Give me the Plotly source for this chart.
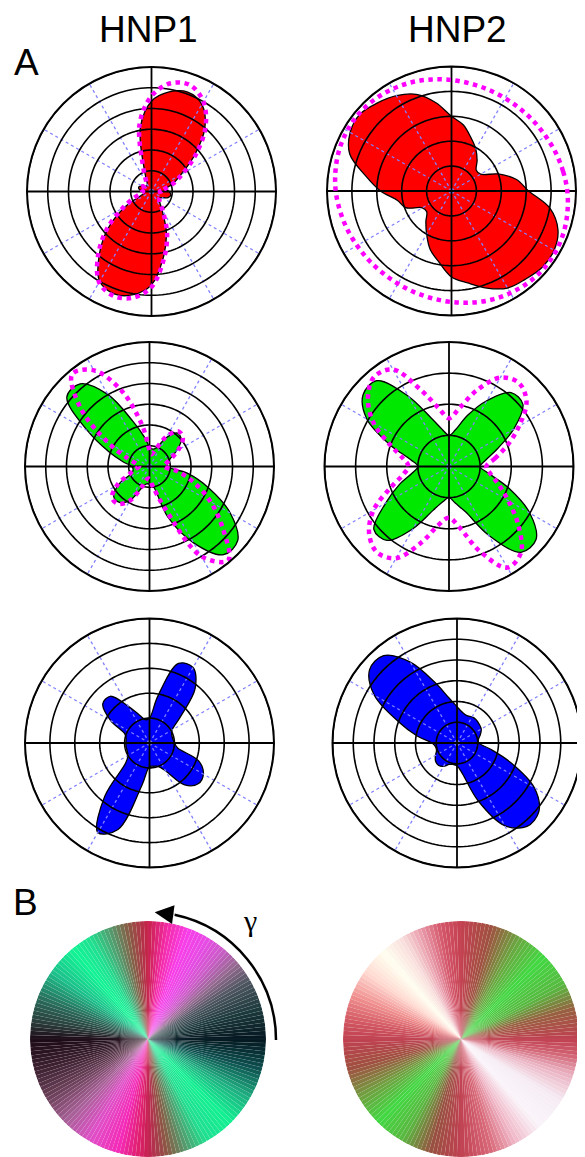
import numpy as np
import plotly.graph_objects as go

W, H = 585, 1157
OFF = 8  # the page body adds an 8px margin around the plot

# polar angle of each sample (deg, counter-clockwise from east)
theta = list(range(0, 360, 10))

# radii, in units of grid rings
hnp1_red = [0.85, 0.7, 1.1, 1.65, 2.7, 4.0, 4.85, 5.1, 4.87, 4.35, 3.1, 0.9,
            0.4, 0.35, 0.4, 0.55, 0.65, 0.6, 0.4, 0.35, 0.5, 1.45, 2.7, 3.9,
            5.0, 5.25, 5.05, 4.5, 3.25, 2.1, 1.0, 0.6, 0.5, 0.6, 0.85, 0.95]
hnp1_red_fit = [0.4, 0.6, 1.1, 1.75, 2.8, 4.05, 5.0, 5.45, 5.3, 4.6, 3.3, 1.1,
                0.5, 0.4, 0.4, 0.5, 0.6, 0.5, 0.4, 0.5, 0.9, 1.6, 2.8, 4.0,
                5.05, 5.35, 5.2, 4.6, 3.35, 2.2, 1.1, 0.6, 0.5, 0.5, 0.5, 0.45]
hnp2_red = [3.1, 2.65, 2.0, 1.35, 1.3, 1.6, 1.95, 2.28, 2.7, 3.0, 3.6, 4.13,
            4.42, 4.62, 4.8, 4.7, 4.35, 3.5, 2.85, 2.2, 1.96, 1.35, 1.3, 1.6,
            2.0, 2.5, 2.9, 3.45, 3.75, 4.15, 4.5, 4.62, 4.76, 4.76, 4.55, 4.02]
hnp2_red_fit = [4.65, 4.55, 4.46, 4.38, 4.33, 4.3, 4.3, 4.33, 4.38, 4.46, 4.55, 4.65,
                4.73, 4.8, 4.84, 4.84, 4.8, 4.73, 4.65, 4.55, 4.46, 4.38, 4.33, 4.3,
                4.3, 4.33, 4.38, 4.46, 4.55, 4.65, 4.73, 4.8, 4.84, 4.84, 4.8, 4.73]
hnp1_green = [0.85, 0.9, 1.05, 1.5, 2.0, 2.1, 1.6, 0.95, 0.85, 0.95, 1.45, 2.3,
              4.0, 5.2, 5.2, 3.45, 2.1, 1.3, 0.85, 0.8, 0.9, 1.7, 2.25, 2.25,
              1.9, 1.1, 0.85, 0.85, 0.95, 2.6, 4.25, 5.55, 5.55, 4.5, 3.05, 1.85]
hnp1_green_fit = [0.7, 0.8, 1.1, 1.6, 2.1, 2.2, 1.7, 0.9, 0.6, 0.8, 2.0, 3.85,
                  5.35, 5.8, 4.3, 2.3, 1.1, 0.6, 0.5, 0.7, 1.0, 1.8, 2.35, 2.35,
                  1.9, 1.0, 0.6, 0.6, 1.0, 2.1, 5.0, 5.9, 4.6, 3.4, 2.3, 1.4]
hnp2_green = [1.0, 1.2, 1.65, 2.4, 3.1, 3.1, 2.45, 1.75, 1.2, 1.0, 1.2, 1.65,
              2.6, 3.6, 3.6, 3.05, 2.0, 1.25, 1.0, 1.2, 1.7, 2.35, 3.15, 3.1,
              2.3, 1.5, 1.15, 1.0, 1.2, 1.55, 2.55, 3.6, 3.65, 3.0, 2.05, 1.3]
hnp2_green_fit = [1.2, 1.5, 2.0, 2.6, 3.25, 3.5, 3.3, 2.6, 1.9, 1.55, 1.9, 2.6,
                  3.6, 3.75, 3.4, 2.8, 2.0, 1.5, 1.3, 1.5, 2.0, 2.8, 3.35, 3.6,
                  3.4, 2.6, 1.9, 1.65, 2.0, 2.9, 3.75, 3.6, 2.9, 2.2, 1.7, 1.35]
hnp1_blue = [1.0, 0.95, 0.95, 1.05, 1.6, 2.85, 3.5, 3.4, 1.9, 1.0, 0.95, 1.2,
             1.7, 2.45, 2.45, 1.8, 1.05, 0.95, 0.95, 0.95, 0.95, 1.0, 1.25, 2.8,
             4.15, 3.7, 1.7, 0.95, 0.95, 1.0, 1.3, 2.2, 2.55, 2.5, 2.1, 1.15]
hnp2_blue = [1.05, 1.05, 1.2, 1.35, 1.4, 1.45, 1.45, 1.4, 1.5, 1.75, 2.2, 3.1,
             4.5, 5.5, 5.5, 4.6, 3.0, 1.95, 1.2, 1.05, 1.05, 1.2, 1.35, 1.4,
             1.3, 1.1, 1.05, 1.1, 1.5, 2.95, 4.6, 5.25, 5.15, 4.3, 2.75, 1.6]

# colour wheels: colour read at each angle
wheel1_angles = [0, 15, 30, 40, 50, 60, 70, 80, 90, 100, 110, 120, 130, 145, 160, 172,
                 180, 195, 210, 225, 240, 255, 265, 270, 280, 290, 300, 315, 330, 345, 360]
wheel1_colors = ['#03161f', '#1c3a3c', '#4e5660', '#946a90', '#cc5cc8', '#e84ae6', '#f83ee8',
                 '#f42aa8', '#c8204a', '#8a5a44', '#50a070', '#20e090', '#12f496', '#1cc08a',
                 '#2a6a5a', '#2a3a38', '#1c0a16', '#3c2030', '#6a4058', '#a86098', '#e050c8',
                 '#f42ab8', '#e0206e', '#c42050', '#8a5a44', '#50a070', '#20e090', '#12f092',
                 '#1eae80', '#0e5050', '#03161f']
wheel2_angles = [0, 15, 28, 45, 60, 75, 90, 100, 110, 120, 132, 145, 158, 170, 180, 195,
                 210, 225, 240, 255, 270, 285, 298, 312, 328, 342, 352, 360]
wheel2_colors = ['#c04050', '#986040', '#58b840', '#42d842', '#6aa840', '#a05040', '#c44050',
                 '#d45468', '#e898a8', '#f8dcdc', '#fffff0', '#ffd8d0', '#f09090', '#d45a64',
                 '#c04050', '#a05040', '#70a040', '#42d842', '#5ab840', '#985040', '#c04050',
                 '#d86878', '#f0b8c8', '#faf4fa', '#f6ecf4', '#eab0c0', '#d06070', '#c04050']

panels = [
    # (fill values, fitted curve, rings, fill colour, centre x, centre y)
    (hnp1_red, hnp1_red_fit, 6, '#ff0000', 151.5, 191.5),
    (hnp2_red, hnp2_red_fit, 5, '#ff0000', 451.5, 191.0),
    (hnp1_green, hnp1_green_fit, 6, '#00e800', 149.5, 466.5),
    (hnp2_green, hnp2_green_fit, 4, '#00e800', 449.0, 466.5),
    (hnp1_blue, None, 5, '#0000ff', 149.5, 743.0),
    (hnp2_blue, None, 6, '#0000ff', 457.0, 743.0),
]
panel_radius = 124.5
ring_theta = np.arange(0, 361, 2)


def paper(px, py):
    return (px - OFF) / W, 1 - (py - OFF) / H


def domain(cx, cy, rad):
    x0, y0 = paper(cx - rad, cy + rad)
    x1, y1 = paper(cx + rad, cy - rad)
    return dict(x=[x0, x1], y=[y0, y1])


def closed(values):
    return list(values) + [values[0]]


def polar_line(sub, r, th, **line):
    fig.add_trace(go.Scatterpolar(r=r, theta=th, mode='lines', line=line, subplot=sub,
                                  showlegend=False, hoverinfo='skip'))


fig = go.Figure()
layout = {}
for i, (vals, fit, rings, color, cx, cy) in enumerate(panels):
    sub = 'polar' if i == 0 else 'polar%d' % (i + 1)
    fig.add_trace(go.Scatterpolar(r=closed(vals), theta=closed(theta), mode='lines', fill='toself',
                                  fillcolor=color, line=dict(color='black', width=1.3, shape='spline'),
                                  subplot=sub, showlegend=False, hoverinfo='skip'))
    # grid drawn on top of the filled shape
    for a in range(30, 360, 30):
        if a % 90:
            polar_line(sub, [0, rings], [a, a], color='#8080ff', width=1.3, dash='dot')
    for k in range(1, rings + 1):
        polar_line(sub, [k] * len(ring_theta), ring_theta, color='black', width=1.6)
    for a in (0, 90):
        polar_line(sub, [rings, 0, rings], [a, a, a + 180], color='black', width=1.8)
    if fit is not None:
        polar_line(sub, closed(fit), closed(theta), color='#ff00ff', width=4.5, dash='dot',
                   shape='spline')
    layout[sub] = dict(
        domain=domain(cx, cy, panel_radius), bgcolor='white',
        radialaxis=dict(range=[0, rings], showgrid=False, showticklabels=False, ticks='',
                        showline=False),
        angularaxis=dict(rotation=0, direction='counterclockwise', showgrid=False, showline=True,
                         linecolor='black', linewidth=2, ticks='', showticklabels=False))

# colour wheels
step = 2
wedges = np.arange(0, 360, step) + step / 2
wheels = [(wheel1_angles, wheel1_colors, 148.0, 1039.0), (wheel2_angles, wheel2_colors, 461.0, 1039.0)]
for j, (angles, colors, cx, cy) in enumerate(wheels):
    sub = 'polar%d' % (7 + j)
    scale = [[a / 360, c] for a, c in zip(angles, colors)]
    fig.add_trace(go.Barpolar(r=[1] * len(wedges), theta=wedges, width=[step] * len(wedges),
                              marker=dict(color=wedges, colorscale=scale, cmin=0, cmax=360,
                                          line=dict(color='rgba(255,255,255,0.12)', width=0.3)),
                              subplot=sub, showlegend=False, hoverinfo='skip'))
    layout[sub] = dict(domain=domain(cx, cy, 118), bgcolor='rgba(0,0,0,0)', bargap=0,
                       radialaxis=dict(visible=False, range=[0, 1]),
                       angularaxis=dict(visible=False, rotation=0, direction='counterclockwise'))

# gamma arrow around the first wheel
acx, acy, ra = 148.0, 1040.0, 128.0
a1 = np.radians(78)
k = 4 / 3 * np.tan(a1 / 4)
p0 = paper(acx + ra, acy)
p1 = paper(acx + ra, acy - k * ra)
p3x, p3y = acx + ra * np.cos(a1), acy - ra * np.sin(a1)
p2 = paper(p3x + k * ra * np.sin(a1), p3y + k * ra * np.cos(a1))
p3 = paper(p3x, p3y)
arc = 'M %f,%f C %f,%f %f,%f %f,%f' % (p0 + p1 + p2 + p3)
fig.add_shape(type='path', path=arc, xref='paper', yref='paper', line=dict(color='black', width=2.5))
tip = np.radians(87)
tx, ty = acx + ra * np.cos(tip), acy - ra * np.sin(tip)
hx, hy = paper(tx, ty)
fig.add_annotation(x=hx, y=hy, xref='paper', yref='paper', text='', showarrow=True,
                   ax=p3x - tx, ay=p3y - ty, arrowhead=2, arrowsize=1.5, arrowwidth=2.5,
                   arrowcolor='black')

labels = [('HNP1', 148, 29, 37, 'Liberation Sans'), ('HNP2', 457, 29, 37, 'Liberation Sans'),
          ('A', 26, 62, 37, 'Liberation Sans'), ('B', 25, 902, 37, 'Liberation Sans'),
          ('γ', 250, 920, 30, 'Liberation Serif')]
for txt, px, py, size, family in labels:
    x, y = paper(px, py)
    fig.add_annotation(x=x, y=y, xref='paper', yref='paper', text=txt, showarrow=False,
                       xanchor='center', yanchor='middle', font=dict(size=size, family=family, color='black'))

fig.update_layout(width=W, height=H, margin=dict(l=0, r=0, t=0, b=0), paper_bgcolor='white',
                  plot_bgcolor='white', showlegend=False, **layout)
fig.write_html("out.html")
